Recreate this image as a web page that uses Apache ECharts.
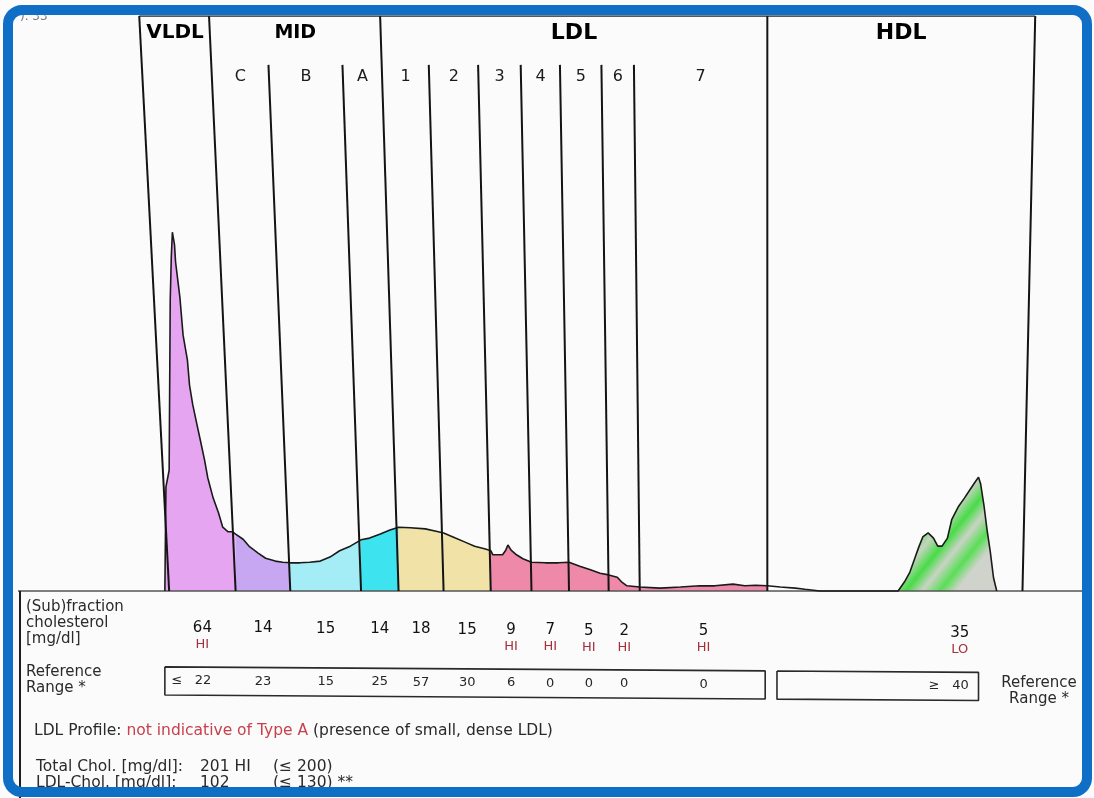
<!DOCTYPE html>
<html>
<head>
<meta charset="utf-8">
<title>Lipoprotein subfractions</title>
<script src="https://cdn.jsdelivr.net/npm/echarts@6.0.0/dist/echarts.min.js"></script>
<style>
  html, body { margin: 0; padding: 0; background: #ffffff; }
  #chart { width: 1094px; height: 798px; }
</style>
</head>
<body>
<div id="chart"></div>
<script>
// Fractions, left to right in order of mobility
const fractions = ['VLDL', 'C', 'B', 'A', '1', '2', '3', '4', '5', '6', '7', 'HDL'];
// Fraction borders on the relative mobility scale (0-100)
const boundaries = [14.1, 20.3, 25.4, 32.0, 35.5, 39.7, 44.1, 47.9, 51.4, 55.1, 58.0, 69.9, 93.7];
// Borders that run the full plot height (group borders)
const groupBorders = [0, 1, 4, 11, 12];
// Group headings and the border indices each one spans
const groupNames = ['VLDL', 'MID', 'LDL', 'HDL'];
const groupStart = [0, 1, 4, 11];
const groupEnd = [1, 4, 11, 12];
// Sub-fraction labels (blank where a group is a single fraction)
const subLabels = ['', 'C', 'B', 'A', '1', '2', '3', '4', '5', '6', '7', ''];
// (Sub)fraction cholesterol [mg/dl] with flag, and reference range
const cholesterol = [64, 14, 15, 14, 18, 15, 9, 7, 5, 2, 5, 35];
const flags = ['HI', '', '', '', '', '', 'HI', 'HI', 'HI', 'HI', 'HI', 'LO'];
const referenceRange = ['≤ 22', '23', '15', '25', '57', '30', '6', '0', '0', '0', '0', '≥ 40'];
// Densitometric scan: mobility and relative absorbance
const profileX = [13.7, 13.8, 14.1, 14.2, 14.3, 14.4, 14.6, 14.7, 15.1, 15.4,
  15.8, 16.0, 16.3, 16.7, 17.0, 17.4, 17.7, 18.2, 18.7, 19.1,
  19.6, 20.0, 20.3, 21.0, 21.6, 22.4, 23.1, 24.0, 24.7, 25.4,
  26.3, 27.2, 28.2, 29.1, 30.0, 31.0, 32.0, 32.8, 33.8, 34.7,
  35.5, 36.6, 38.0, 39.0, 39.7, 40.8, 41.7, 42.6, 43.6, 44.1,
  44.3, 45.2, 45.5, 45.7, 46.0, 46.5, 47.1, 47.9, 49.2, 50.4,
  51.4, 52.4, 53.4, 54.3, 55.1, 55.9, 56.3, 56.8, 58.0, 59.9,
  61.8, 63.6, 65.0, 66.7, 67.8, 68.8, 69.9, 71.1, 72.5, 73.4,
  74.8, 82.1, 82.7, 83.2, 83.6, 84.0, 84.4, 84.9, 85.4, 85.8,
  86.2, 86.7, 87.1, 87.7, 88.3, 88.8, 89.3, 89.6, 89.8, 90.1,
  90.4, 90.7, 91.0, 91.3];
const profileY = [0, 18.1, 21.0, 50.6, 58.1, 62.4, 60.2, 57.2, 51.1, 44.5,
  40.2, 35.8, 32.4, 28.9, 26.3, 22.8, 19.7, 16.2, 13.6, 11.1,
  10.3, 10.3, 9.9, 9.0, 7.7, 6.6, 5.7, 5.2, 5.0, 4.9,
  4.9, 5.0, 5.2, 5.9, 7.0, 7.8, 8.9, 9.2, 9.9, 10.6,
  11.1, 11.0, 10.8, 10.4, 10.1, 9.2, 8.5, 7.8, 7.3, 7.0,
  6.3, 6.3, 7.1, 8.0, 7.1, 6.3, 5.6, 5.0, 4.9, 4.9,
  5.0, 4.3, 3.7, 3.1, 2.8, 2.4, 1.6, 0.9, 0.7, 0.5,
  0.7, 0.9, 0.9, 1.2, 0.9, 1.0, 0.9, 0.7, 0.5, 0.3,
  0, 0, 1.6, 3.3, 5.4, 7.5, 9.4, 10.1, 9.2, 7.8,
  7.8, 9.2, 12.4, 14.6, 16.2, 17.6, 19.0, 19.8, 18.6, 15.0,
  10.6, 6.8, 2.3, 0];

// ---- styling ----
const FONT = "'DejaVu Sans', 'Liberation Sans', Arial, sans-serif";
const FLAG_RED = '#a3303c';
const hdlFill = new echarts.graphic.LinearGradient(0, 0, 1, 0.7, [
  { offset: 0.00, color: '#cfd3cb' }, { offset: 0.28, color: '#cdd3c8' },
  { offset: 0.40, color: '#55de52' }, { offset: 0.50, color: '#c6d3c0' },
  { offset: 0.61, color: '#48dc47' }, { offset: 0.71, color: '#c9d3c4' },
  { offset: 0.82, color: '#5ade56' }, { offset: 0.92, color: '#cfd3cb' },
  { offset: 1.00, color: '#cfd3cb' }
]);
const fillColors = ['#e6a5f1', '#c7a7f2', '#a4ecf6', '#3de3ef', '#f1e3a7', '#f1e3a7',
  '#ee89a9', '#ee89a9', '#ee89a9', '#ee89a9', '#ee89a9', hdlFill];
const headerSizes = [20, 19, 22, 22];

// Divider lines fan out slightly with height around the LDL/HDL border
const PIVOT = boundaries[11];
const SPREAD = 0.05;
function skew(x, h) { return PIVOT + (x - PIVOT) * (1 + SPREAD * h / 100); }
// Table rows run with a gentle downward slope to the right
const ROW_TILT = 0.0125;
function rowY(x, y) { return y - ROW_TILT * (x - boundaries[0]); }

const FULL_TOP = 100, SUB_TOP = 91.5;
const HEADER_H = 97, SUB_H = 89.4;
const VALUE_ROW = -6.4, FLAG_ROW = -9.3, REF_ROW = -15.6;
const BOX_TOP = -13.2, BOX_BOTTOM = -18.1;
const refBoxes = [[13.7, 69.7], [70.8, 89.6]];

const points = profileX.map((x, i) => [x, profileY[i]]);

// HDL peak starts at the last baseline point before its maximum
const hdlIdx = points.map((p, i) => i).filter(i => points[i][0] >= boundaries[11]);
let hdlMax = hdlIdx[0];
hdlIdx.forEach(i => { if (points[i][1] > points[hdlMax][1]) hdlMax = i; });
let hdlStartIdx = hdlMax;
while (hdlStartIdx > 0 && points[hdlStartIdx][1] > 0) hdlStartIdx--;
const hdlStartX = points[hdlStartIdx][0];
// Centre of the HDL peak (absorbance-weighted)
let sw = 0, swx = 0;
points.forEach(p => { if (p[0] >= hdlStartX && p[0] <= boundaries[12]) { sw += p[1]; swx += p[0] * p[1]; } });
const hdlCentre = swx / sw;

const series = [];

// Coloured areas, one per fraction
fractions.forEach((name, i) => {
  let lo, hi;
  if (i === 11) { lo = hdlStartX; hi = boundaries[12]; }
  else { lo = i === 0 ? -Infinity : boundaries[i]; hi = boundaries[i + 1]; }
  series.push({
    type: 'line', name: name, silent: true, symbol: 'none', z: 1,
    data: points.filter(p => p[0] >= lo && p[0] <= hi),
    lineStyle: { width: 0, opacity: 0 },
    areaStyle: { color: fillColors[i], opacity: 1, origin: 'auto' }
  });
});

// Baseline
series.push({
  type: 'line', silent: true, symbol: 'none', z: 2,
  data: [[0, 0], [100, 0]],
  lineStyle: { color: '#555', width: 1.5 }
});

// Scan outline
series.push({
  type: 'line', silent: true, symbol: 'none', z: 3,
  data: points,
  lineStyle: { color: '#1a1a1a', width: 1.6 }
});

// Fraction dividers
boundaries.forEach((b, i) => {
  const top = groupBorders.indexOf(i) >= 0 ? FULL_TOP : SUB_TOP;
  series.push({
    type: 'line', silent: true, symbol: 'none', z: 4,
    data: [[b, 0], [skew(b, top), top]],
    lineStyle: { color: '#141414', width: 2 }
  });
});

// Top border of the plot
series.push({
  type: 'line', silent: true, symbol: 'none', z: 4,
  data: [[skew(boundaries[0], FULL_TOP), FULL_TOP], [skew(boundaries[12], FULL_TOP), FULL_TOP]],
  lineStyle: { color: '#222', width: 1.5 }
});

// Reference range boxes
refBoxes.forEach(([x1, x2]) => {
  series.push({
    type: 'line', silent: true, symbol: 'none', z: 4,
    data: [[x1, rowY(x1, BOX_TOP)], [x2, rowY(x2, BOX_TOP)], [x2, rowY(x2, BOX_BOTTOM)],
           [x1, rowY(x1, BOX_BOTTOM)], [x1, rowY(x1, BOX_TOP)]],
    lineStyle: { color: '#2a2a2a', width: 1.6 }
  });
});

function textSeries(items, style) {
  return {
    type: 'scatter', silent: true, symbolSize: 1, z: 10,
    itemStyle: { color: 'rgba(0,0,0,0)', opacity: 1 },
    data: items,
    label: Object.assign({ show: true, position: 'inside', formatter: '{b}', fontFamily: FONT,
      textBorderWidth: 0, opacity: 1 }, style)
  };
}

// Group headings
series.push(textSeries(groupNames.map((g, k) => {
  const x = (skew(boundaries[groupStart[k]], HEADER_H) + skew(boundaries[groupEnd[k]], HEADER_H)) / 2;
  return { name: g, value: [x, HEADER_H], label: { fontSize: headerSizes[k] } };
}), { color: '#000', fontWeight: 'bold' }));

// Sub-fraction labels
series.push(textSeries(subLabels.map((s, i) => {
  const x = (skew(boundaries[i], SUB_H) + skew(boundaries[i + 1], SUB_H)) / 2;
  return { name: s, value: [x, SUB_H] };
}).filter(d => d.name !== ''), { color: '#1a1a1a', fontSize: 16 }));

// Column centres for the table rows
const colX = fractions.map((f, i) => i === 11 ? hdlCentre : (boundaries[i] + boundaries[i + 1]) / 2);

series.push(textSeries(cholesterol.map((v, i) => (
  { name: String(v), value: [colX[i], rowY(colX[i], VALUE_ROW)] }
)), { color: '#111', fontSize: 15 }));

series.push(textSeries(flags.map((f, i) => (
  { name: f, value: [colX[i], rowY(colX[i], FLAG_ROW)] }
)).filter(d => d.name !== ''), { color: FLAG_RED, fontSize: 13 }));

series.push(textSeries(referenceRange.map((r, i) => {
  const prefixed = r.length > 2 && (r[0] === '≤' || r[0] === '≥');
  const d = { name: prefixed ? r.replace(' ', '   ') : r, value: [colX[i], rowY(colX[i], REF_ROW)] };
  if (prefixed) d.label = { align: 'right', offset: [9, 0] };
  return d;
}), { color: '#262626', fontSize: 13 }));

function txt(x, y, text, extra) {
  return {
    type: 'text', x: x, y: y, silent: true, z: 50,
    style: Object.assign({ text: text, fill: '#2a2a2a', font: '15px ' + FONT, verticalAlign: 'middle', align: 'left' }, extra || {})
  };
}

const NOTE_FONT = '15.5px ' + FONT;
const graphics = [
  txt(20, 17, '). 33', { fill: '#777', font: '12px ' + FONT }),
  txt(26, 607, '(Sub)fraction'),
  txt(26, 623, 'cholesterol'),
  txt(26, 639, '[mg/dl]'),
  txt(26, 672, 'Reference'),
  txt(26, 688, 'Range *'),
  txt(1039, 683, 'Reference', { align: 'center' }),
  txt(1039, 699, 'Range *', { align: 'center' }),
  {
    type: 'text', x: 34, y: 731, silent: true, z: 50,
    style: {
      text: '{a|LDL Profile: }{r|not indicative of Type A }{a|(presence of small, dense LDL)}',
      verticalAlign: 'middle',
      rich: {
        a: { fill: '#2a2a2a', font: NOTE_FONT },
        r: { fill: '#c8404e', font: NOTE_FONT }
      }
    }
  },
  txt(36, 767, 'Total Chol. [mg/dl]:', { font: NOTE_FONT }),
  txt(200, 767, '201 HI', { font: NOTE_FONT }),
  txt(273, 767, '(≤ 200)', { font: NOTE_FONT }),
  txt(36, 783, 'LDL-Chol. [mg/dl]:', { font: NOTE_FONT }),
  txt(200, 783, '102', { font: NOTE_FONT }),
  txt(273, 783, '(≤ 130) **', { font: NOTE_FONT }),
  {
    type: 'line', silent: true, z: 40,
    shape: { x1: 20, y1: 591, x2: 20, y2: 798 },
    style: { stroke: '#1e1e1e', lineWidth: 2 }
  },
  {
    type: 'rect', silent: true, z: 100,
    shape: { x: 8, y: 10, width: 1079, height: 782, r: 14 },
    style: { fill: 'none', stroke: '#0f6fc6', lineWidth: 10 }
  }
];

const chart = echarts.init(document.getElementById('chart'));
chart.setOption({
  animation: false,
  backgroundColor: '#fbfbfb',
  grid: { left: 18, right: 4, top: 16, bottom: 0 },
  xAxis: { type: 'value', min: 0, max: 100, show: false },
  yAxis: { type: 'value', min: -36, max: 100, show: false },
  series: series,
  graphic: graphics
});
</script>
</body>
</html>
